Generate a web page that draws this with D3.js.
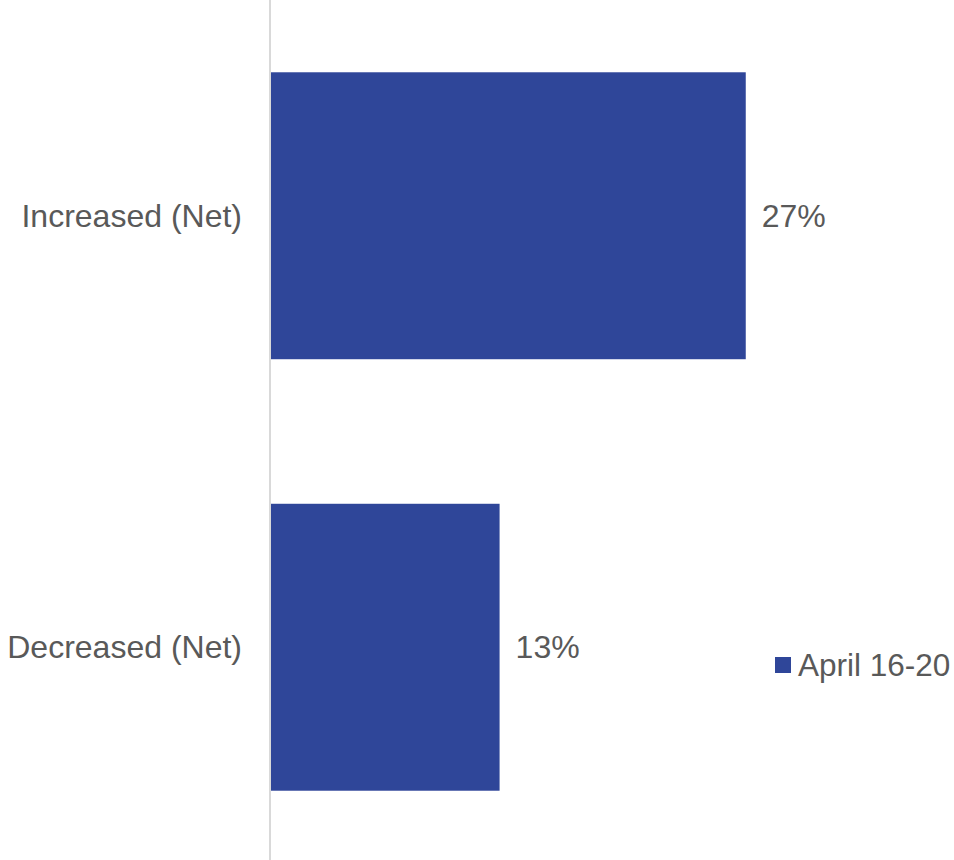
<!DOCTYPE html>
<html><head><meta charset="utf-8">
<script src="https://cdn.jsdelivr.net/npm/d3@7"></script>
<style>body{margin:0;background:#fff}svg{display:block}</style>
</head><body>
<script>
const categories = ["Increased (Net)", "Decreased (Net)"];
const values = [27, 13];
const seriesName = "April 16-20";

const W = 954, H = 860;
const color = "#2F4699", textColor = "#595959";
const font = "'Liberation Sans', Arial, sans-serif";
const svg = d3.select("body").append("svg").attr("width", W).attr("height", H);

const y = d3.scaleBand().domain(categories).range([0, 863]).paddingInner(0.335).paddingOuter(0.1675);
const x = d3.scaleLinear().domain([0, 30]).range([271, 798.5]);

svg.selectAll("rect.bar").data(categories).join("rect").attr("class","bar")
  .attr("x", x(0)).attr("y", d => y(d))
  .attr("width", (d,i) => x(values[i]) - x(0)).attr("height", y.bandwidth())
  .attr("fill", color);

svg.append("line").attr("x1", 270).attr("x2", 270).attr("y1", 0).attr("y2", H)
  .attr("stroke", "#d9d9d9").attr("stroke-width", 2);

svg.selectAll("text.cat").data(categories).join("text").attr("class","cat")
  .attr("x", 242).attr("y", d => y(d) + y.bandwidth()/2)
  .attr("dy", "0.35em").attr("text-anchor", "end")
  .attr("font-family", font).attr("font-size", 32).attr("fill", textColor)
  .text(d => d);

svg.selectAll("text.val").data(categories).join("text").attr("class","val")
  .attr("x", (d,i) => x(values[i]) + 16).attr("y", d => y(d) + y.bandwidth()/2)
  .attr("dy", "0.35em")
  .attr("font-family", font).attr("font-size", 32).attr("fill", textColor)
  .text((d,i) => values[i] + "%");

const lg = svg.append("g").attr("transform", "translate(775,665)");
lg.append("rect").attr("x", 0).attr("y", -8).attr("width", 16).attr("height", 16).attr("fill", color);
lg.append("text").attr("x", 23).attr("y", 0).attr("dy", "0.35em")
  .attr("font-family", font).attr("font-size", 31.5).attr("fill", textColor).text(seriesName);
</script>
</body></html>
